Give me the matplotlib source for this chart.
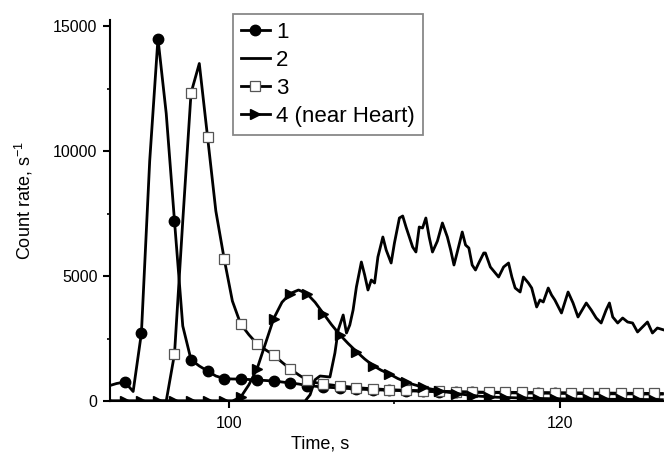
import numpy as np
import matplotlib
matplotlib.use('Agg')
import matplotlib.pyplot as plt
from matplotlib.ticker import MultipleLocator

plt.rcParams['font.family'] = ['Liberation Sans', 'DejaVu Sans']
plt.rcParams['mathtext.fontset'] = 'custom'
plt.rcParams['mathtext.rm'] = 'Liberation Sans'
plt.rcParams['mathtext.it'] = 'Liberation Sans:italic'

# Grille de temps commune (s) pour les courbes 1, 3 et 4
temps = np.arange(92.7, 126.25, 0.5)

courbe1 = [600, 700, 760, 380, 2720, 9600, 14500, 11500, 7200, 3000,
           1650, 1400, 1200, 1000, 900, 880, 880, 860, 840, 820,
           800, 760, 720, 680, 620, 590, 560, 540, 520, 500,
           480, 465, 450, 440, 430, 420, 410, 400, 390, 380,
           370, 365, 360, 355, 350, 345, 340, 335, 330, 325,
           320, 318, 315, 312, 310, 305, 300, 298, 295, 292,
           290, 288, 286, 284, 282, 280, 278, 276]

courbe3 = [np.nan] * 6 + [0, 0, 1880, 7200, 12320, 13500, 10560, 7600, 5700, 4000,
           3080, 2650, 2280, 2050, 1840, 1550, 1280, 1050, 840, 740,
           680, 640, 600, 570, 540, 510, 490, 470, 450, 440,
           430, 420, 410, 400, 390, 380, 370, 365, 360, 355,
           352, 350, 348, 345, 342, 340, 338, 335, 332, 330,
           328, 325, 322, 320, 318, 315, 312, 310, 308, 305,
           302, 300]

courbe4 = [0] * 16 + [150, 650, 1300, 2300, 3300, 3950, 4300, 4440, 4300, 3950,
           3500, 3050, 2650, 2300, 1980, 1680, 1420, 1230, 1080, 900,
           760, 650, 560, 480, 420, 360, 300, 260, 220, 190,
           170, 150, 140, 130, 120, 110, 100, 95, 90, 85,
           80, 78, 75, 72, 70, 68, 65, 62, 60, 58,
           55, 52]

# Courbe 2 (bruitée), lue point par point
temps2 = [92.7, 104.6, 104.9, 105.2, 105.5, 106.1, 106.4, 106.6, 106.9, 107.1,
          107.3, 107.5, 107.7, 108.0, 108.2, 108.4, 108.6, 108.8, 109.0, 109.3,
          109.5, 109.8, 110.0, 110.3, 110.5, 110.7, 110.9, 111.1, 111.3, 111.5,
          111.7, 111.9, 112.1, 112.3, 112.6, 112.9, 113.2, 113.4, 113.6, 113.8,
          114.1, 114.3, 114.5, 114.7, 114.9, 115.1, 115.4, 115.5, 115.8, 116.1,
          116.3, 116.6, 116.9, 117.1, 117.3, 117.6, 117.8, 118.1, 118.3, 118.6,
          118.8, 119.0, 119.3, 119.5, 119.7, 120.1, 120.5, 120.8, 121.1, 121.6,
          121.9, 122.2, 122.5, 122.8, 123.0, 123.2, 123.5, 123.8, 124.1, 124.4,
          124.7, 125.0, 125.3, 125.6, 125.9, 126.3]
courbe2 = [0, 0, 250, 850, 1000, 960, 1920, 2840, 3440, 2720,
           3040, 3640, 4560, 5560, 5040, 4440, 4840, 4720, 5760, 6560,
           6040, 5520, 6320, 7320, 7400, 6960, 6560, 6160, 5960, 6960,
           6920, 7320, 6560, 5960, 6400, 7120, 6560, 6040, 5440, 5960,
           6760, 6240, 6120, 5440, 5240, 5520, 5920, 5920, 5360, 5120,
           4960, 5360, 5520, 4960, 4520, 4360, 4960, 4720, 4520, 3760,
           4040, 3960, 4520, 4240, 4040, 3520, 4360, 3920, 3360, 3920,
           3640, 3320, 3120, 3640, 3920, 3360, 3120, 3320, 3160, 3120,
           2760, 2960, 3160, 2720, 2920, 2840]

fig = plt.figure(figsize=(6.64, 4.54), dpi=100)
ax = fig.add_axes([110/664, 1 - 401/454, 554/664, 381/454])

lw = 2.0
ax.plot(temps, courbe1, color='black', lw=lw, marker='o', ms=7.5,
        markevery=(2, 2), label='1')
ax.plot(temps2, courbe2, color='black', lw=lw, label='2')
ax.plot(temps, courbe3, color='black', lw=lw, marker='s', ms=6.5,
        mfc='white', mec='#555555', mew=0.9, markevery=(8, 2), label='3')
ax.plot(temps, courbe4, color='black', lw=lw, marker='>', ms=6.5,
        markevery=(0, 2), label='4 (near Heart)')

ax.set_xlim(92.8, 126.3)
ax.set_ylim(0, 15240)

ax.xaxis.set_major_locator(MultipleLocator(20))
ax.xaxis.set_minor_locator(MultipleLocator(10))
ax.yaxis.set_major_locator(MultipleLocator(5000))
ax.yaxis.set_minor_locator(MultipleLocator(2500))

for s in ['top', 'right']:
    ax.spines[s].set_visible(False)
for s in ['left', 'bottom']:
    ax.spines[s].set_linewidth(1.5)

ax.tick_params(which='major', direction='out', length=5, width=1.5,
               labelsize=11.5, pad=4)
ax.tick_params(axis='x', which='major', pad=6)
ax.tick_params(which='minor', direction='out', length=2.5, width=1.2)

ax.set_xlabel('Time, s', fontsize=13)
ax.set_ylabel(r'Count rate, s$^{-1}$', fontsize=13)
ax.xaxis.set_label_coords((320 - 110) / 554, -0.09)
ax.yaxis.set_label_coords(-0.135, (401 - 201) / 381)

leg = ax.legend(loc='upper left', bbox_to_anchor=(233/664, 1 - 14/454),
                bbox_transform=fig.transFigure, borderaxespad=0,
                fontsize=16, numpoints=1, handlelength=1.3,
                handletextpad=0.3, labelspacing=0.32, borderpad=0.35,
                fancybox=False, framealpha=1, edgecolor='#888888')
leg.get_frame().set_linewidth(1.3)

fig.savefig('out.png', dpi=100)
